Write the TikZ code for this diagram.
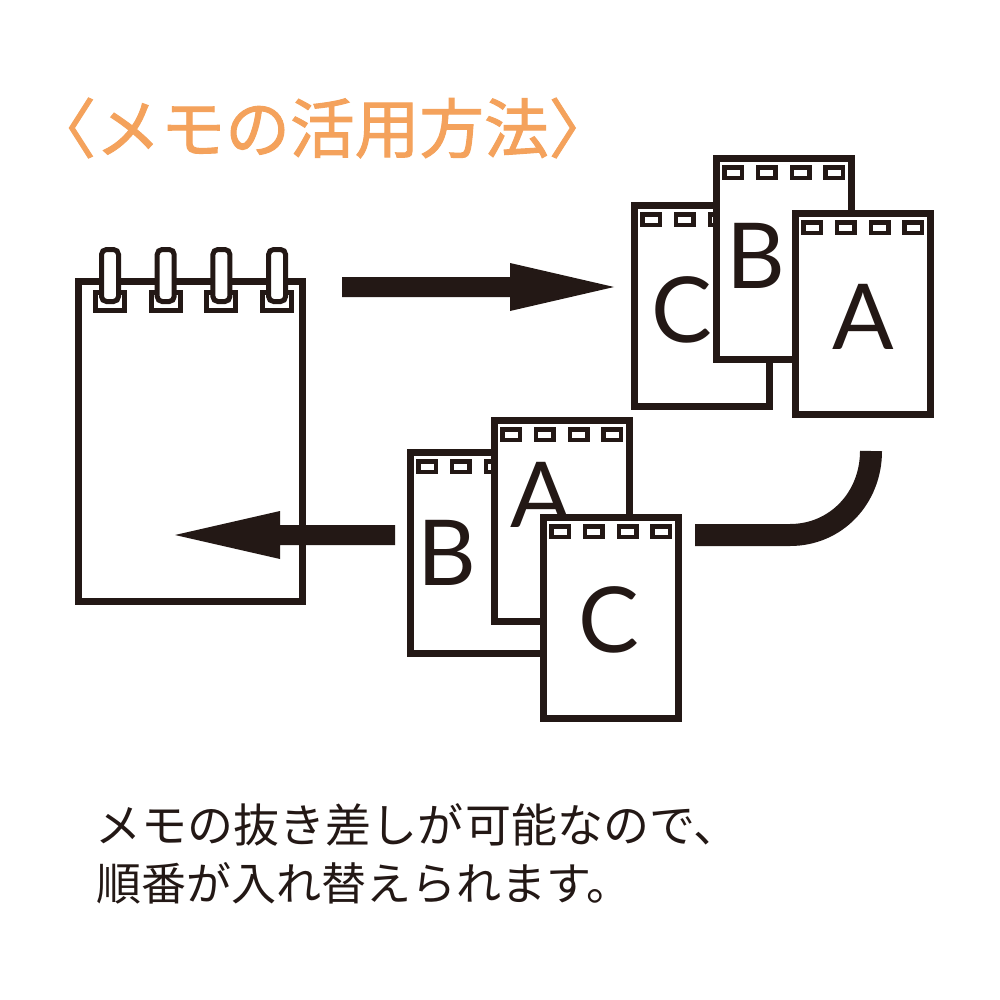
\documentclass[tikz,border=0pt]{standalone}
\usepackage{fontspec}
\setmainfont{Lato}
\newfontfamily\jpfont{Noto Sans CJK JP}
\newfontfamily\jptitle[FakeBold=1.5]{Noto Sans CJK JP}
\definecolor{ink}{HTML}{231815}
\definecolor{titleorange}{HTML}{F4A25C}
\tikzset{
  padbox/.style={draw=ink,line width=7pt,fill=white,miter limit=10},
  padhole/.style={draw=ink,line width=4.5pt,fill=white},
  ringbox/.style={draw=ink,line width=5pt,fill=white,rounded corners=5pt},
  bighole/.style={draw=ink,line width=5pt,fill=white},
  padletter/.style={text=ink,font=\fontsize{91pt}{91pt}\selectfont,inner sep=0pt,anchor=center},
  arrowfill/.style={fill=ink,draw=none},
  bandline/.style={draw=ink,line width=22pt},
  titletext/.style={text=titleorange,font=\jptitle\fontsize{64.7pt}{65pt}\selectfont,inner sep=0pt,anchor=west},
  bodytext/.style={text=ink,font=\jpfont\fontsize{45pt}{45pt}\selectfont,inner sep=0pt,anchor=west},
  bodytextwide/.style={text=ink,font=\jpfont\fontsize{46pt}{46pt}\selectfont,inner sep=0pt,anchor=west}
}
\newcommand{\smallpad}[6]{%
  \draw[padbox] (#1+3.5,#2+3.5) rectangle (#1+138.5,#2+204.5);
  \foreach \k in {0,1,2,3}{
    \draw[padhole] ({#1+11.5+33.7*\k},#2+12.5) rectangle ({#1+29+33.7*\k},#2+23);
  }
  \node[padletter] (#6) at (#4,#5) {#3};
}
\begin{document}
\begin{tikzpicture}[x=1pt,y=-1pt]
\useasboundingbox (0,0) rectangle (1000,1000);
\fill[white] (0,0) rectangle (1000,1000);
\node[titletext] (title) at (31,128) {〈メモの活用方法〉};
% big pad
\draw[padbox] (78.5,281) rectangle (302.5,601.5);
\foreach \k in {0,1,2,3}{
  \draw[bighole] ({95.5+55.7*\k},292.5) rectangle ({124.5+55.7*\k},310.5);
  \draw[ringbox] ({101.5+55.7*\k},249.5) rectangle ({118.5+55.7*\k},301.5);
}
% top group
\smallpad{631}{202}{C}{682}{310}{lc}
\smallpad{713}{155}{B}{756}{256}{lb}
\smallpad{792}{210}{A}{863}{317}{la}
% bottom group
\smallpad{407}{449}{B}{447}{553}{lb2}
\smallpad{491}{417}{A}{541}{495}{la2}
\smallpad{540}{514}{C}{609}{620}{lc2}
% arrows
\coordinate (ts) at (342,287);
\coordinate (tt) at (614,287);
\fill[arrowfill] (ts)++(0,-10) -- (510,277) -- (510,263) -- (tt) -- (510,311) -- (510,297) -- (342,297) -- cycle;
\coordinate (bs) at (395,535);
\coordinate (bt) at (175,535);
\fill[arrowfill] (bs)++(0,-10) -- (280,525) -- (280,511) -- (bt) -- (280,559) -- (280,545) -- (395,545) -- cycle;
\coordinate (cs) at (695,535);
\coordinate (ce) at (871,451);
\draw[bandline] (cs) -- (790,535) .. controls (836,535) and (871,498) .. (ce);
\node[bodytextwide] (l1) at (95,825) {メモの抜き差しが\kern2pt 可能なので、};
\node[bodytext] (l2) at (96,883) {順番が入れ替えられます。};
\end{tikzpicture}
\end{document}
